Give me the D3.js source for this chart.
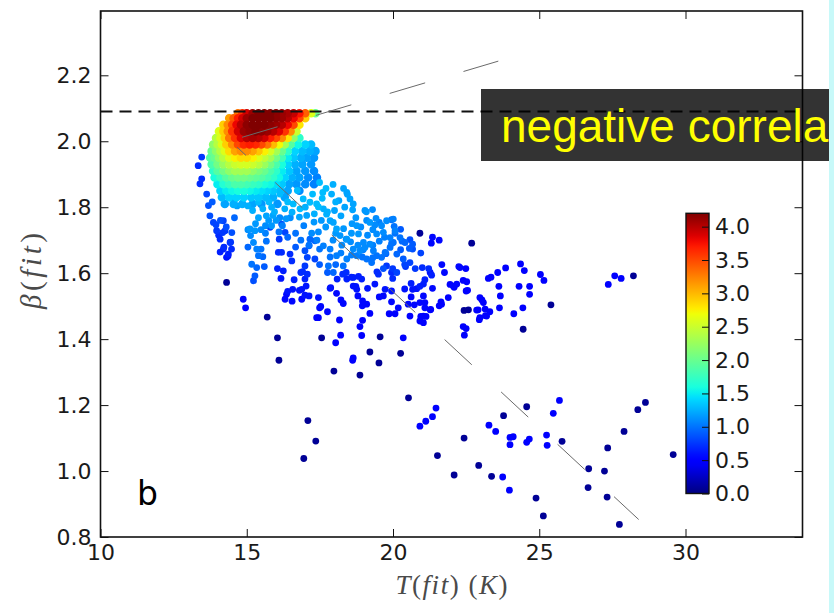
<!DOCTYPE html>
<html>
<head>
<meta charset="utf-8">
<script src="https://cdn.jsdelivr.net/npm/d3@7"></script>
<style>
  html, body { margin: 0; padding: 0; background: #fff; }
  svg { display: block; }
</style>
</head>
<body>
<svg id="chart" width="834" height="613"></svg>
<script>
// ---- axis ticks ----
const xTicks = [10, 15, 20, 25, 30];
const yTicks = [0.8, 1.0, 1.2, 1.4, 1.6, 1.8, 2.0, 2.2];
const cbarTicks = [0, 0.5, 1.0, 1.5, 2.0, 2.5, 3.0, 3.5, 4.0];

// upper bound of beta used in the fits
const betaLimit = 2.09;

// guide lines: [T0, beta0, T1, beta1]
const trendUp = [14.84, 2.012, 23.6, 2.243];
const trendDown = [14.67, 1.982, 28.4, 0.853];

// dense core of the distribution, one row per beta: [beta, T values, density values]
const denseCore = [
  [2.085, [14.7,14.85,15.0,15.2,15.4,15.6,15.8,16.0,16.2,16.4,16.6,16.8,17.0,17.2,17.35],
          [3.3,3.6,3.9,4.1,4.2,4.2,4.2,4.15,4.1,4.05,3.95,3.75,3.4,2.6,2.0]],
  [2.07,  [14.4,14.55,14.7,14.85,15.0,15.2,15.4,15.6,15.8,16.0,16.2,16.4,16.6,16.8,17.0],
          [3.1,3.4,3.7,3.9,4.1,4.2,4.2,4.2,4.2,4.15,4.1,4.0,3.8,3.5,2.9]],
  [2.05,  [14.2,14.35,14.5,14.65,14.8,15.0,15.2,15.4,15.6,15.8,16.0,16.2,16.4,16.6,16.8],
          [2.9,3.2,3.5,3.8,4.0,4.15,4.2,4.2,4.2,4.15,4.1,4.0,3.8,3.5,2.8]],
  [2.03,  [14.05,14.2,14.35,14.5,14.7,14.9,15.1,15.3,15.5,15.7,15.9,16.1,16.3,16.5,16.7],
          [2.6,2.9,3.2,3.6,3.9,4.1,4.15,4.2,4.15,4.1,4.0,3.85,3.6,3.2,2.5]],
  [2.01,  [13.95,14.1,14.25,14.4,14.6,14.8,15.0,15.2,15.4,15.6,15.8,16.0,16.2,16.4,16.6,16.8],
          [2.4,2.6,2.9,3.3,3.6,3.85,4.0,4.05,4.0,3.9,3.7,3.5,3.2,2.8,2.2,1.7]],
  [1.99,  [13.85,14.0,14.15,14.3,14.5,14.7,14.9,15.1,15.3,15.5,15.7,15.9,16.1,16.3,16.5,16.75,17.0,17.2],
          [2.2,2.4,2.6,2.9,3.2,3.5,3.65,3.7,3.65,3.5,3.3,3.0,2.7,2.3,1.9,1.55,1.4,1.3]],
  [1.97,  [13.8,13.95,14.1,14.25,14.4,14.6,14.8,15.0,15.2,15.4,15.6,15.8,16.0,16.2,16.4,16.65,16.9,17.15,17.35],
          [2.0,2.2,2.4,2.6,2.85,3.1,3.2,3.2,3.1,2.95,2.75,2.55,2.3,2.0,1.7,1.4,1.3,1.25,1.2]],
  [1.95,  [13.75,13.9,14.05,14.2,14.4,14.6,14.8,15.0,15.2,15.4,15.6,15.8,16.0,16.2,16.4,16.6,16.85,17.05,17.3],
          [1.9,2.0,2.2,2.4,2.6,2.75,2.85,2.85,2.75,2.6,2.45,2.3,2.05,1.8,1.5,1.35,1.25,1.2,1.15]],
  [1.93,  [13.8,14.0,14.2,14.4,14.6,14.8,15.0,15.2,15.4,15.6,15.8,16.0,16.2,16.4,16.65,16.9,17.2],
          [1.85,2.05,2.25,2.4,2.5,2.55,2.55,2.5,2.4,2.25,2.05,1.85,1.6,1.4,1.25,1.2,1.15]],
  [1.91,  [13.85,14.0,14.2,14.4,14.6,14.8,15.0,15.2,15.4,15.6,15.8,16.0,16.2,16.45,16.7,17.0,17.3],
          [1.7,1.9,2.05,2.2,2.3,2.3,2.3,2.2,2.1,2.0,1.85,1.7,1.5,1.35,1.2,1.15,1.1]],
  [1.89,  [13.9,14.1,14.3,14.5,14.7,14.9,15.1,15.3,15.5,15.7,15.9,16.1,16.3,16.55,16.8,17.1,17.4],
          [1.6,1.75,1.9,2.0,2.05,2.05,2.0,1.95,1.9,1.8,1.7,1.55,1.4,1.25,1.2,1.1,1.05]],
  [1.87,  [14.0,14.2,14.4,14.6,14.8,15.0,15.2,15.4,15.6,15.8,16.0,16.2,16.45,16.7,17.0,17.3],
          [1.5,1.65,1.75,1.85,1.85,1.8,1.75,1.7,1.6,1.55,1.45,1.35,1.2,1.15,1.1,1.05]],
  [1.85,  [14.1,14.3,14.5,14.7,14.9,15.1,15.3,15.5,15.7,15.9,16.15,16.4,16.8],
          [1.4,1.5,1.55,1.6,1.6,1.55,1.5,1.45,1.4,1.35,1.3,1.2,1.1]],
  [1.83,  [14.15,14.4,14.65,14.9,15.15,15.4,15.65,15.9,16.3],
          [1.3,1.4,1.4,1.4,1.35,1.35,1.3,1.25,1.2]],
  [1.81,  [14.25,14.55,14.85,15.2,15.5,16.05],
          [1.2,1.25,1.25,1.2,1.15,1.15]]
];

// band of moderately dense fits: [T, beta, density]
const bandPoints = [
  // left edge
  [13.46,1.952,0.75],[13.34,1.926,0.7],[13.46,1.886,0.7],[13.4,1.871,0.7],[13.63,1.84,0.8],
  [13.69,1.805,0.85],[13.74,1.774,0.85],[13.86,1.754,0.8],[13.82,1.816,0.9],[13.95,1.747,0.8],
  [14.04,1.715,0.7],[14.18,1.723,0.75],[14.09,1.664,0.65],[14.22,1.679,0.7],[14.36,1.652,0.6],
  [14.45,1.694,0.75],[14.49,1.723,0.85],[14.58,1.768,0.95],[14.1,1.76,0.85],[14.3,1.74,0.85],
  [14.2,1.759,0.8],[14.26,1.729,0.75],[13.97,1.729,0.75],[14.09,1.703,0.7],[14.43,1.693,0.7],
  [14.2,1.673,0.65],[14.48,1.673,0.7],[14.37,1.658,0.65],[14.31,1.648,0.6],
  // column near T = 15
  [15.11,1.734,1.15],[15.28,1.729,1.15],[15.13,1.714,1.1],[15.23,1.693,1.1],[15.34,1.673,1.05],
  [15.4,1.653,1.0],[15.17,1.627,1.0],[15.34,1.617,0.95],[15.28,1.592,0.9],[15.23,1.577,0.85],
  [15.04,1.679,0.95],[15.49,1.732,1.1],[15.64,1.744,1.1],[15.4,1.768,1.2],[15.67,1.774,1.2],
  [15.95,1.786,1.25],[15.04,1.732,1.1],[15.85,1.744,1.15],[15.64,1.721,1.05],[15.67,1.697,1.0],
  [15.49,1.673,1.0],[16.73,1.851,1.3],[16.4,1.816,1.3],[16.13,1.84,1.3],[15.76,1.816,1.3],
  [15.4,1.816,1.3],[15.04,1.804,1.25],[14.67,1.804,1.2],[14.58,1.822,1.25],
  [15.2,1.79,1.25],[15.55,1.795,1.25],[15.85,1.8,1.25],[16.3,1.795,1.25],[16.55,1.785,1.25],
  [16.8,1.77,1.2],[17.05,1.775,1.2],[17.3,1.755,1.15],[17.55,1.76,1.15],[16.35,1.765,1.15],
  [16.0,1.76,1.15],[15.9,1.775,1.2],[15.3,1.75,1.15],[15.75,1.76,1.15],[17.0,1.8,1.25],
  [17.25,1.84,1.3],[17.6,1.845,1.3],[17.9,1.84,1.25],[18.15,1.82,1.2],[18.35,1.8,1.2],
  [18.0,1.79,1.2],[17.45,1.725,1.1],[17.7,1.74,1.15],[17.95,1.7,1.1],[18.6,1.75,1.15],
  [18.9,1.74,1.1],[19.1,1.76,1.1],[18.55,1.695,1.1],[18.25,1.685,1.1],[16.85,1.7,1.0],
  [17.4,1.7,1.05],[16.1,1.725,1.0],[15.55,1.65,0.95],[15.6,1.62,0.9],
  // blue between T = 15.7 and 17.5
  [15.8,1.739,0.8],[16.19,1.749,0.85],[16.31,1.724,0.8],[16.11,1.703,0.75],[16.08,1.663,0.7],
  [16.19,1.663,0.7],[16.48,1.658,0.7],[16.54,1.637,0.7],[16.05,1.614,0.65],[16.25,1.607,0.65],
  [16.17,1.584,0.6],[16.62,1.58,0.65],[16.57,1.551,0.6],[16.36,1.536,0.55],[16.31,1.521,0.55],
  [16.88,1.551,0.6],[16.99,1.533,0.6],[16.88,1.521,0.55],[17.03,1.561,0.6],[16.99,1.582,0.65],
  [17.07,1.597,0.7],[16.91,1.605,0.7],[16.99,1.622,0.75],[17.07,1.648,0.8],[16.99,1.668,0.85],
  [17.13,1.683,0.9],[17.33,1.698,0.95],[17.16,1.703,0.95],[17.33,1.643,0.8],[17.45,1.526,0.6],
  [17.53,1.499,0.55],[17.39,1.465,0.5],[16.55,1.515,0.55],[16.4,1.545,0.6],[16.8,1.548,0.6],
  [16.85,1.602,0.7],[17.13,1.531,0.6],[17.49,1.495,0.55],[17.45,1.465,0.5],[17.76,1.483,0.55],
  [17.85,1.554,0.6],[16.22,1.744,1.05],[16.13,1.768,1.1],[16.49,1.768,1.1],[16.67,1.721,1.0],
  [16.4,1.709,0.95],[16.67,1.679,0.9],[16.95,1.744,1.05],
  // light blue band towards T = 21
  [16.59,1.81,1.3],[16.82,1.795,1.3],[16.93,1.825,1.3],[17.16,1.815,1.3],[17.39,1.81,1.3],
  [17.62,1.795,1.25],[17.73,1.779,1.25],[17.85,1.759,1.2],[17.96,1.754,1.2],[18.07,1.734,1.2],
  [18.19,1.714,1.15],[18.42,1.703,1.15],[18.64,1.673,1.1],[18.76,1.653,1.05],[18.87,1.668,1.1],
  [19.21,1.688,1.1],[19.33,1.668,1.05],[18.42,1.643,1.05],[18.3,1.622,1.0],[18.07,1.653,1.05],
  [17.85,1.673,1.05],[17.62,1.683,1.05],[17.96,1.602,0.95],[17.79,1.622,1.0],[18.42,1.845,1.2],
  [18.53,1.825,1.2],[18.64,1.81,1.2],[18.76,1.744,1.15],[18.82,1.719,1.15],[18.99,1.693,1.1],
  [19.04,1.678,1.1],[19.1,1.643,1.0],[19.27,1.632,1.0],[19.44,1.653,1.0],[19.61,1.648,1.0],
  [19.73,1.663,1.0],[19.9,1.678,1.0],[20.01,1.693,1.0],[19.9,1.708,1.05],[20.07,1.729,1.05],
  [20.24,1.708,1.0],[20.41,1.693,0.95],[20.67,1.688,0.9],[20.56,1.675,0.9],[20.13,1.658,0.95],
  [20.35,1.643,0.9],[19.44,1.719,1.1],[19.67,1.724,1.1],[19.61,1.744,1.1],[19.78,1.759,1.1],
  [20.01,1.764,1.05],[19.04,1.79,1.15],[19.3,1.793,1.1],[19.42,1.766,1.1],[19.38,1.746,1.1],
  [19.21,1.754,1.15],[17.49,1.875,1.3],[17.71,1.857,1.3],[17.95,1.869,1.25],[18.31,1.857,1.2],
  [18.44,1.839,1.2],[17.58,1.827,1.3],[18.04,1.816,1.25],[17.45,1.801,1.3],[17.31,1.78,1.25],
  [17.76,1.786,1.25],[18.22,1.774,1.2],[18.62,1.792,1.2],[18.73,1.768,1.15],[19.09,1.786,1.15],
  [19.53,1.754,1.05],[19.95,1.762,1.0],[20.04,1.742,1.0],[19.31,1.732,1.1],[19.13,1.715,1.1],
  [18.58,1.721,1.15],[18.31,1.735,1.15],[18.04,1.721,1.15],[18.4,1.703,1.1],[18.8,1.685,1.1],
  [18.98,1.671,1.05],[19.31,1.685,1.05],[19.53,1.697,1.05],[19.71,1.709,1.05],[20.07,1.721,1.0],
  [20.31,1.697,0.95],[19.95,1.69,1.0],[20.26,1.671,0.9],[19.76,1.659,0.95],[19.31,1.647,1.0],
  [18.95,1.649,1.0],[18.58,1.655,1.05],[18.22,1.661,1.05],[17.85,1.649,1.0],[17.49,1.673,1.0],
  [17.22,1.721,1.1],[17.13,1.685,1.0],[17.49,1.626,0.9],[17.76,1.602,0.9],[18.04,1.626,0.95],
  [20.4,1.626,0.8],[20.67,1.673,0.85],[20.95,1.661,0.8],[20.58,1.702,0.85],[20.26,1.733,0.9],
  [19.67,1.614,0.85],[20.13,1.602,0.8],
  // blue, centre
  [18.09,1.582,0.65],[18.28,1.597,0.7],[18.42,1.582,0.65],[18.64,1.587,0.65],[18.82,1.59,0.65],
  [18.93,1.582,0.65],[18.64,1.561,0.6],[18.76,1.551,0.6],[18.96,1.516,0.55],[19.1,1.506,0.55],
  [19.21,1.478,0.5],[18.96,1.457,0.5],[18.87,1.438,0.5],[18.93,1.411,0.5],[18.17,1.458,0.5],
  [18.3,1.508,0.55],[18.07,1.539,0.55],[17.87,1.556,0.55],[19.67,1.531,0.55],[19.73,1.551,0.6],
  [19.95,1.546,0.6],[19.87,1.477,0.5],[18.22,1.519,0.55],[18.4,1.602,0.7],[18.58,1.588,0.65],
  [18.73,1.56,0.6],[18.8,1.531,0.55],[18.95,1.501,0.55],[19.13,1.554,0.6],[19.45,1.604,0.7],
  [19.53,1.528,0.55],[19.95,1.602,0.7],[19.95,1.513,0.55],[20.07,1.477,0.5],[20.18,1.495,0.55],
  [20.4,1.552,0.6],[20.62,1.569,0.65],[20.62,1.528,0.55],[20.73,1.504,0.55],[21.04,1.531,0.55],
  [21.09,1.495,0.55],[21.13,1.469,0.5],[20.95,1.469,0.5],[21.04,1.45,0.5],[21.27,1.489,0.5],
  [21.35,1.554,0.55],[21.27,1.602,0.6],
  // blue, T = 19.4 to 22.5
  [19.38,1.567,0.6],[19.5,1.597,0.7],[19.99,1.584,0.7],[19.78,1.622,0.75],[19.99,1.614,0.75],
  [20.43,1.62,0.75],[20.58,1.632,0.8],[20.76,1.614,0.75],[21.0,1.617,0.7],[21.22,1.614,0.7],
  [21.32,1.594,0.65],[21.09,1.58,0.65],[21.04,1.567,0.65],[20.92,1.56,0.65],[20.81,1.553,0.6],
  [20.67,1.551,0.6],[20.52,1.506,0.55],[20.92,1.511,0.55],[21.09,1.511,0.55],[21.04,1.47,0.5],
  [20.92,1.455,0.5],[20.58,1.47,0.5],[21.29,1.49,0.5],[21.66,1.506,0.5],[21.89,1.526,0.5],
  [22.06,1.561,0.55],[22.18,1.567,0.55],[22.29,1.617,0.55],[22.52,1.574,0.5],[22.5,1.546,0.5],
  [22.5,1.432,0.45],[22.97,1.526,0.5],[23.09,1.511,0.5],[23.15,1.491,0.5],[23.2,1.47,0.5],
  [22.97,1.465,0.5],[22.86,1.488,0.5],[23.26,1.584,0.5],
  // blue, T = 21.3 to 25.2
  [25.04,1.596,0.5],[25.16,1.578,0.5],[24.36,1.628,0.5],[24.49,1.608,0.5],[24.31,1.56,0.5],
  [24.67,1.56,0.5],[24.67,1.536,0.5],[24.44,1.495,0.5],[24.13,1.477,0.5],[23.85,1.616,0.5],
  [23.58,1.602,0.5],[23.35,1.588,0.5],[23.62,1.56,0.5],[23.67,1.531,0.5],[23.64,1.495,0.5],
  [23.31,1.483,0.5],[23.16,1.471,0.5],[22.95,1.459,0.5],[22.91,1.489,0.5],[23.04,1.519,0.5],
  [22.49,1.614,0.5],[22.25,1.62,0.55],[22.4,1.578,0.5],[22.55,1.548,0.5],[22.09,1.557,0.5],
  [21.95,1.566,0.5],[21.67,1.626,0.55],[21.76,1.602,0.55],[21.64,1.513,0.5],[21.58,1.501,0.5],
  [22.4,1.438,0.45],[22.44,1.412,0.45],[21.35,1.709,0.55],[21.58,1.7,0.55],[21.31,1.691,0.55]
];

// isolated fits: [T, beta, density]
const sparsePoints = [
  [14.31,1.572,0.08],[15.7,1.467,0.08],[16.05,1.404,0.08],[16.1,1.336,0.08],[17.56,1.404,0.08],
  [17.98,1.303,0.08],[18.87,1.291,0.08],[19.52,1.328,0.08],[19.21,1.361,0.08],[19.56,1.407,0.08],
  [20.92,1.721,0.08],[22.69,1.691,0.08],[22.43,1.487,0.08],[20.26,1.357,0.08],[20.53,1.222,0.08],
  [21.52,1.047,0.08],[22.43,1.1,0.08],[22.09,0.988,0.08],[22.93,1.017,0.08],[23.37,0.984,0.08],
  [23.78,1.168,0.08],[24.57,1.195,0.08],[24.89,0.918,0.08],[25.14,0.864,0.08],[25.78,1.09,0.08],
  [26.69,1.007,0.08],[26.67,0.95,0.08],[27.23,1.0,0.08],[27.34,1.07,0.08],[27.32,0.921,0.08],
  [27.74,0.838,0.08],[27.9,1.12,0.08],[28.37,1.186,0.08],[28.63,1.208,0.08],[29.58,1.05,0.08],
  [17.09,1.153,0.08],[17.36,1.091,0.08],[16.95,1.038,0.08],[28.22,1.592,0.08],[25.4,1.504,0.08],
  [24.45,1.43,0.08],[22.58,1.489,0.08],
  [14.88,1.521,0.5],[14.96,1.495,0.5],[18.04,1.389,0.5],[18.21,1.412,0.5],[18.64,1.343,0.5],
  [18.62,1.336,0.5],[20.35,1.404,0.5],[20.92,1.136,0.5],[21.12,1.151,0.5],[21.35,1.165,0.5],
  [21.47,1.191,0.5],[23.75,0.982,0.5],[23.98,0.942,0.5],[23.28,1.139,0.5],[23.51,1.12,0.5],
  [24.0,1.102,0.5],[24.11,1.104,0.5],[24.0,1.08,0.5],[24.57,1.087,0.5],[24.66,1.097,0.5],
  [25.25,1.109,0.5],[25.27,1.078,0.5],[25.48,1.175,0.5],[25.69,1.214,0.5],[27.36,1.566,0.5],
  [27.58,1.592,0.5],[27.8,1.584,0.5]
];

// ---- layout ----
const svg = d3.select("#chart");
const plot = { left: 100.5, right: 802.5, top: 11, bottom: 537 };
const x = d3.scaleLinear().domain([10, 34]).range([plot.left, plot.right]);
const y = d3.scaleLinear().domain([0.8, 2.395]).range([plot.bottom, plot.top]);

// jet colour map
const jetR = d3.scaleLinear().domain([0, 0.35, 0.66, 0.89, 1]).range([0, 0, 1, 1, 0.5]).clamp(true);
const jetG = d3.scaleLinear().domain([0, 0.125, 0.375, 0.64, 0.91, 1]).range([0, 0, 1, 1, 0, 0]).clamp(true);
const jetB = d3.scaleLinear().domain([0, 0.11, 0.34, 0.65, 1]).range([0.5, 1, 1, 0, 0]).clamp(true);
const zNorm = d3.scaleLinear().domain([0, 4.2]).range([0, 1]).clamp(true);
const jet = t => d3.rgb(jetR(t) * 255, jetG(t) * 255, jetB(t) * 255).formatHex();
const color = z => jet(zNorm(z));

// ---- scatter ----
const corePoints = denseCore.flatMap(([b, ts, zs]) => ts.map((t, i) => [t, b, zs[i], true]));
const allPoints = sparsePoints.concat(bandPoints, corePoints).sort((a, b) => a[2] - b[2]);

svg.append("clipPath").attr("id", "plotClip")
  .append("rect").attr("x", plot.left).attr("y", plot.top)
  .attr("width", plot.right - plot.left).attr("height", plot.bottom - plot.top);

const gPlot = svg.append("g").attr("clip-path", "url(#plotClip)");

gPlot.selectAll("circle.pt").data(allPoints).join("circle")
  .attr("class", "pt")
  .attr("cx", d => x(d[0]))
  .attr("cy", d => y(d[1]))
  .attr("r", 3.4)
  .attr("fill", d => color(d[2]))
  // overlapping fits in the core merge into a solid patch
  .attr("stroke", d => d[3] ? color(d[2]) : "none")
  .attr("stroke-width", d => d[3] ? 1.8 : 0);

// upper limit on beta
gPlot.append("line")
  .attr("x1", x(10)).attr("x2", x(34))
  .attr("y1", y(betaLimit)).attr("y2", y(betaLimit))
  .attr("stroke", "#111").attr("stroke-width", 2)
  .attr("stroke-dasharray", "12,7");

// guide lines
gPlot.append("line")
  .attr("x1", x(trendUp[0])).attr("y1", y(trendUp[1]))
  .attr("x2", x(trendUp[2])).attr("y2", y(trendUp[3]))
  .attr("stroke", "#6a6a6a").attr("stroke-width", 1)
  .attr("stroke-dasharray", "37,40");
gPlot.append("line")
  .attr("x1", x(trendDown[0])).attr("y1", y(trendDown[1]))
  .attr("x2", x(trendDown[2])).attr("y2", y(trendDown[3]))
  .attr("stroke", "#6a6a6a").attr("stroke-width", 1)
  .attr("stroke-dasharray", "37,40").attr("stroke-dashoffset", 25);

// ---- axes ----
const tickFont = "'DejaVu Sans', sans-serif";
function styleAxis(g) {
  g.select(".domain").remove();
  g.selectAll(".tick line").attr("stroke", "#111").attr("stroke-width", 1);
  g.selectAll(".tick text").attr("fill", "#1a1a1a").style("font-family", tickFont).style("font-size", "22px");
}
svg.append("g").attr("transform", `translate(0,${plot.bottom})`)
  .call(d3.axisBottom(x).tickValues(xTicks).tickSize(-8).tickPadding(7).tickFormat(d3.format("d")))
  .call(styleAxis);
svg.append("g").attr("transform", `translate(0,${plot.top})`)
  .call(d3.axisTop(x).tickValues(xTicks).tickSize(-8).tickFormat(""))
  .call(styleAxis);
svg.append("g").attr("transform", `translate(${plot.left},0)`)
  .call(d3.axisLeft(y).tickValues(yTicks).tickSize(-8).tickPadding(9).tickFormat(d3.format(".1f")))
  .call(styleAxis);
svg.append("g").attr("transform", `translate(${plot.right},0)`)
  .call(d3.axisRight(y).tickValues(yTicks).tickSize(-8).tickFormat(""))
  .call(styleAxis);

svg.append("rect")
  .attr("x", plot.left).attr("y", plot.top)
  .attr("width", plot.right - plot.left).attr("height", plot.bottom - plot.top)
  .attr("fill", "none").attr("stroke", "#111").attr("stroke-width", 1.6);

// axis titles
const xt = svg.append("text")
  .attr("x", (plot.left + plot.right) / 2).attr("y", 594)
  .attr("text-anchor", "middle")
  .attr("fill", "#4a4a4a")
  .style("font-family", "'Liberation Serif', serif").style("font-size", "27px")
  .attr("textLength", 112).attr("lengthAdjust", "spacing");
xt.append("tspan").attr("font-style", "italic").text("T");
xt.append("tspan").text("(");
xt.append("tspan").attr("font-style", "italic").text("fit");
xt.append("tspan").text(") (");
xt.append("tspan").attr("font-style", "italic").text("K");
xt.append("tspan").text(")");

const yt = svg.append("text")
  .attr("transform", "translate(41,271) rotate(-90)")
  .attr("text-anchor", "middle")
  .attr("fill", "#4a4a4a")
  .style("font-family", "'Liberation Serif', serif").style("font-size", "29px")
  .attr("textLength", 76).attr("lengthAdjust", "spacing");
yt.append("tspan").attr("font-style", "italic").text("β");
yt.append("tspan").text("(");
yt.append("tspan").attr("font-style", "italic").text("fit");
yt.append("tspan").text(")");

// panel letter
svg.append("text")
  .attr("x", 137).attr("y", 505)
  .attr("fill", "#000")
  .style("font-family", "'DejaVu Sans', sans-serif").style("font-size", "33px")
  .text("b");

// ---- colour bar ----
const cb = { x: 686, w: 23, top: 213.3, bottom: 493.5 };
const cy = d3.scaleLinear().domain([0, 4.2]).range([cb.bottom, cb.top]);
const grad = svg.append("defs").append("linearGradient")
  .attr("id", "jetGrad").attr("x1", 0).attr("y1", 1).attr("x2", 0).attr("y2", 0);
d3.range(0, 1.0001, 0.02).forEach(t => {
  grad.append("stop").attr("offset", t).attr("stop-color", jet(t));
});
svg.append("rect")
  .attr("x", cb.x).attr("y", cb.top).attr("width", cb.w).attr("height", cb.bottom - cb.top)
  .attr("fill", "url(#jetGrad)");
svg.append("g").attr("transform", `translate(${cb.x + cb.w},0)`)
  .call(d3.axisRight(cy).tickValues(cbarTicks).tickSize(-7).tickPadding(6).tickFormat(d3.format(".1f")))
  .call(styleAxis);
svg.append("rect")
  .attr("x", cb.x).attr("y", cb.top).attr("width", cb.w).attr("height", cb.bottom - cb.top)
  .attr("fill", "none").attr("stroke", "#111").attr("stroke-width", 1.4);

// ---- caption box ----
svg.append("rect")
  .attr("x", 481).attr("y", 89).attr("width", 348).attr("height", 72)
  .attr("fill", "#000").attr("fill-opacity", 0.8);
svg.append("text")
  .attr("x", 501).attr("y", 142)
  .attr("fill", "#ffff00")
  .style("font-family", "'Liberation Sans', Arial, sans-serif").style("font-size", "46px")
  .text("negative correla");

// slide edge
svg.append("rect").attr("x", 829).attr("y", 0).attr("width", 5).attr("height", 613).attr("fill", "#c8f9f9");
</script>
</body>
</html>
